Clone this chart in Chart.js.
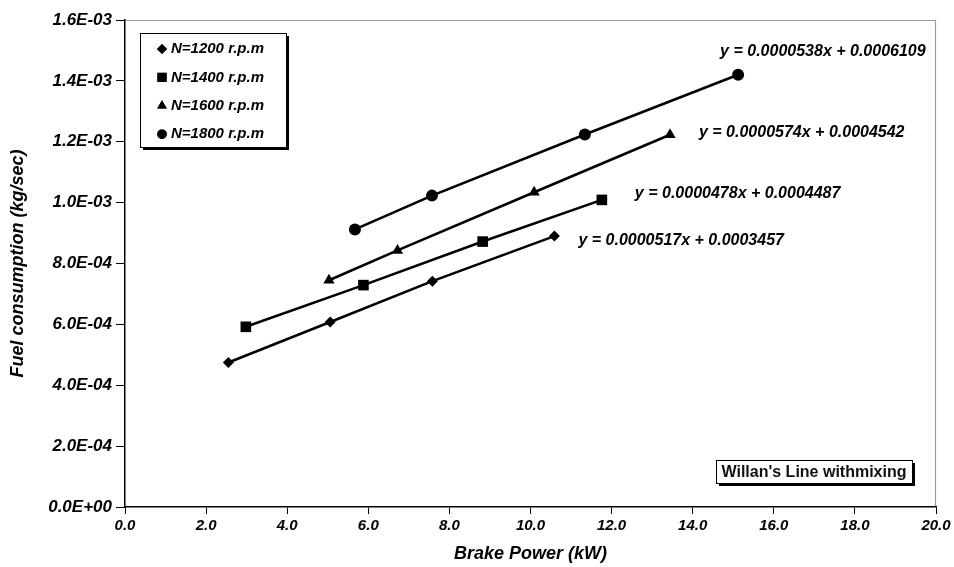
<!DOCTYPE html>
<html><head><meta charset="utf-8">
<script src="https://cdn.jsdelivr.net/npm/chart.js@4.4.0/dist/chart.umd.min.js"></script>
<style>html,body{margin:0;padding:0;background:#fff;}#wrap{width:954px;height:567px;position:relative;}</style>
</head><body><div id="wrap"><canvas id="c" width="954" height="567"></canvas></div>
<script>
// ---- data ----
const seriesNames = ['N=1200 r.p.m', 'N=1400 r.p.m', 'N=1600 r.p.m', 'N=1800 r.p.m'];
const power1200 = [2.55, 5.06, 7.58, 10.59];
const fuel1200  = [0.000475, 0.000608, 0.000742, 0.000890];
const power1400 = [2.98, 5.88, 8.82, 11.76];
const fuel1400  = [0.000592, 0.000729, 0.000872, 0.001009];
const power1600 = [5.03, 6.72, 10.09, 13.44];
const fuel1600  = [0.000745, 0.000843, 0.001034, 0.001223];
const power1800 = [5.67, 7.57, 11.34, 15.12];
const fuel1800  = [0.000912, 0.001023, 0.001224, 0.001420];
const equations = [
  'y = 0.0000517x + 0.0003457',
  'y = 0.0000478x + 0.0004487',
  'y = 0.0000574x + 0.0004542',
  'y = 0.0000538x + 0.0006109'
];
const xTicks = [0, 2, 4, 6, 8, 10, 12, 14, 16, 18, 20];
const yTicks = [0, 0.0002, 0.0004, 0.0006, 0.0008, 0.0010, 0.0012, 0.0014, 0.0016];
const xTitle = 'Brake Power (kW)';
const yTitle = 'Fuel consumption (kg/sec)';
const noteText = "Willan's Line withmixing";

// ---- styles ----
const markerStyles = ['rectRot', 'rect', 'triangle', 'circle'];
const markerRadius = [5.5, 7.5, 6.5, 6];
const legendRadius = [5, 6.5, 5.5, 4.8];
// equation label offset (px) relative to the last point of each series
const eqOffsets = [[24, 4], [33, -6], [29, -2], [-18, -23]];
const FONT = '"Liberation Sans", Arial, sans-serif';

function fmtExp(v) {
  if (Math.abs(v) < 1e-12) return '0.0E+00';
  const s = v.toExponential(1);
  const [m, e] = s.split('e');
  const n = parseInt(e, 10);
  const sign = n < 0 ? '-' : '+';
  const a = Math.abs(n);
  return m + 'E' + sign + (a < 10 ? '0' + a : '' + a);
}

const pw = [power1200, power1400, power1600, power1800];
const fu = [fuel1200, fuel1400, fuel1600, fuel1800];
const datasets = seriesNames.map((name, i) => ({
  label: name,
  data: pw[i].map((x, j) => ({x: x, y: fu[i][j]})),
  showLine: true,
  borderColor: '#000',
  borderWidth: 2.6,
  backgroundColor: '#000',
  pointStyle: markerStyles[i],
  pointRadius: markerRadius[i],
  pointBackgroundColor: '#000',
  pointBorderColor: '#000',
  pointBorderWidth: 0,
  tension: 0
}));

const decorPlugin = {
  id: 'decor',
  beforeDraw(chart) {
    const {ctx, chartArea: a} = chart;
    ctx.save();
    ctx.strokeStyle = '#9a9a9a';
    ctx.lineWidth = 1.2;
    ctx.beginPath();
    ctx.moveTo(a.left, a.top + 0.5);
    ctx.lineTo(a.right - 0.5, a.top + 0.5);
    ctx.lineTo(a.right - 0.5, a.bottom);
    ctx.stroke();
    ctx.restore();
  },
  afterDatasetsDraw(chart) {
    const {ctx, chartArea: a} = chart;
    ctx.save();
    // equations
    ctx.font = 'italic bold 16px ' + FONT;
    ctx.fillStyle = '#000';
    ctx.textBaseline = 'middle';
    ctx.textAlign = 'left';
    chart.data.datasets.forEach((ds, i) => {
      const meta = chart.getDatasetMeta(i);
      const last = meta.data[meta.data.length - 1];
      ctx.fillText(equations[i], last.x + eqOffsets[i][0], last.y + eqOffsets[i][1]);
    });
    // legend box
    const lx = a.left + 15, ly = a.top + 13, lw = 146, lh = 114;
    ctx.fillStyle = '#000';
    ctx.fillRect(lx + 3, ly + 3, lw, lh);
    ctx.fillStyle = '#fff';
    ctx.fillRect(lx, ly, lw, lh);
    ctx.strokeStyle = '#000';
    ctx.lineWidth = 1;
    ctx.strokeRect(lx + 0.5, ly + 0.5, lw, lh);
    ctx.font = 'italic bold 15px ' + FONT;
    seriesNames.forEach((name, i) => {
      const cy = ly + 16 + i * 28.4;
      ctx.fillStyle = '#000';
      Chart.helpers.drawPoint(ctx, {pointStyle: markerStyles[i], radius: legendRadius[i], rotation: 0, borderWidth: 0}, lx + 22, cy);
      ctx.fill();
      ctx.fillStyle = '#000';
      ctx.textAlign = 'left';
      ctx.textBaseline = 'middle';
      ctx.fillText(name, lx + 31, cy);
    });
    // note box
    const nw = 196, nh = 23, nx = a.right - 220, ny = a.bottom - 47;
    ctx.fillStyle = '#000';
    ctx.fillRect(nx + 3, ny + 3, nw, nh);
    ctx.fillStyle = '#fff';
    ctx.fillRect(nx, ny, nw, nh);
    ctx.strokeRect(nx + 0.5, ny + 0.5, nw, nh);
    ctx.font = 'bold 16px ' + FONT;
    ctx.fillStyle = '#111';
    ctx.textAlign = 'center';
    ctx.textBaseline = 'middle';
    ctx.fillText(noteText, nx + nw / 2, ny + nh / 2 + 1);
    ctx.restore();
  }
};

new Chart(document.getElementById('c'), {
  type: 'scatter',
  data: {datasets},
  plugins: [decorPlugin],
  options: {
    responsive: false,
    devicePixelRatio: 1,
    animation: false,
    layout: {padding: {left: 0, right: 18, top: 20, bottom: 0}},
    plugins: {legend: {display: false}, tooltip: {enabled: false}},
    scales: {
      x: {
        type: 'linear', min: 0, max: 20,
        afterBuildTicks: s => { s.ticks = xTicks.map(v => ({value: v})); },
        afterFit: s => { s.height = 60; },
        ticks: {callback: v => Number(v).toFixed(1), font: {family: FONT, size: 15, style: 'italic', weight: 'bold'}, color: '#000', padding: 3, maxRotation: 0, autoSkip: false},
        grid: {drawOnChartArea: false, drawTicks: true, tickLength: 7, color: '#000', lineWidth: 1},
        border: {display: true, color: '#000', width: 1.5},
        title: {display: true, text: xTitle, font: {family: FONT, size: 18, style: 'italic', weight: 'bold'}, color: '#000', padding: {top: 0, bottom: 2}}
      },
      y: {
        type: 'linear', min: 0, max: 0.0016,
        afterBuildTicks: s => { s.ticks = yTicks.map(v => ({value: v})); },
        afterFit: s => { s.width = 125; },
        ticks: {callback: v => fmtExp(v), font: {family: FONT, size: 17, style: 'italic', weight: 'bold'}, color: '#000', padding: 4, autoSkip: false},
        grid: {drawOnChartArea: false, drawTicks: true, tickLength: 9, color: '#000', lineWidth: 1},
        border: {display: true, color: '#000', width: 1.5},
        title: {display: true, text: yTitle, font: {family: FONT, size: 18, style: 'italic', weight: 'bold'}, color: '#000', padding: {top: 7, bottom: 0}}
      }
    }
  }
});
</script></body></html>
